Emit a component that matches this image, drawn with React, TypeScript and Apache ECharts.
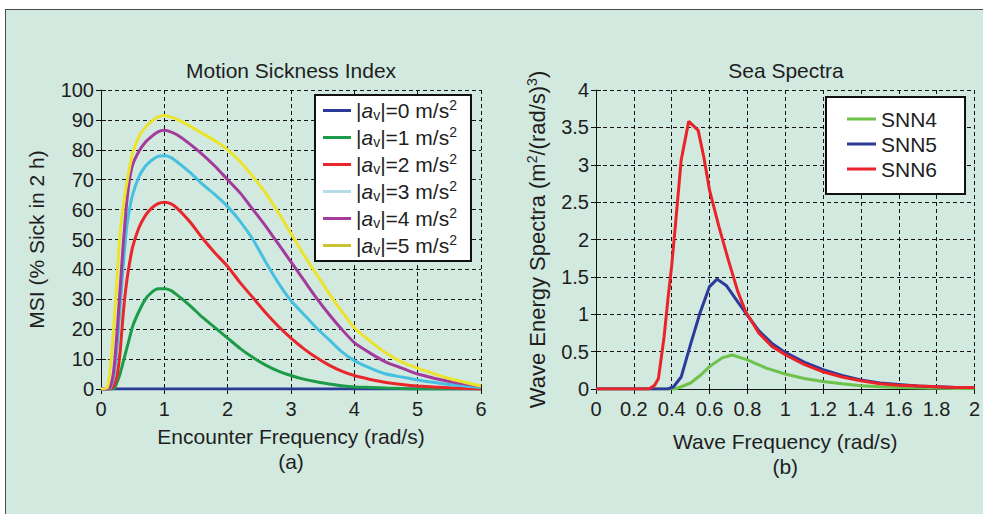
import React, { useEffect, useRef } from 'react';
import * as echarts from 'echarts';

// ---------- Left panel: Motion Sickness Index ----------
const msiFreq = [0, 0.1, 0.15, 0.2, 0.25, 0.3, 0.35, 0.4, 0.45, 0.5, 0.6, 0.7, 0.8, 0.9, 1.0, 1.1, 1.2, 1.4, 1.6, 1.8, 2.0, 2.2, 2.4, 2.6, 2.8, 3.0, 3.2, 3.4, 3.6, 3.8, 4.0, 4.25, 4.5, 4.75, 5.0, 5.5, 6.0];
const msiA0 = [0, 0, 0, 0, 0, 0, 0, 0, 0, 0, 0, 0, 0, 0, 0, 0, 0, 0, 0, 0, 0, 0, 0, 0, 0, 0, 0, 0, 0, 0, 0, 0, 0, 0, 0, 0, 0];
const msiA1 = [0, 0, 0, 0, 2, 5, 9, 13, 17, 21, 26, 30, 32.3, 33.5, 33.5, 33, 31.5, 28, 24, 20.5, 17, 13.5, 10.5, 8, 6, 4.5, 3.3, 2.4, 1.7, 1.1, 0.7, 0.5, 0.3, 0.15, 0, 0, 0];
const msiA2 = [0, 0, 0, 1, 4, 12, 25, 35, 42, 47.5, 54, 58, 60.5, 62, 62.5, 62, 60.5, 56, 50.5, 45.5, 41, 35.5, 30.5, 25.5, 21, 17, 13.5, 10.5, 8, 6, 4.5, 3.2, 2.2, 1.5, 1, 0.4, 0];
const msiA3 = [0, 0, 0.5, 4, 13, 27, 41, 53, 60, 65, 71, 74.5, 76.5, 77.8, 78, 77.5, 76, 72.5, 68.5, 65, 61, 56, 50, 42.5, 35.5, 29.5, 25, 20.5, 16.5, 12.5, 9.5, 7, 5, 4, 3, 1.5, 0.5];
const msiA4 = [0, 0, 1, 6, 18, 33, 48, 61, 70, 75, 79.5, 82.5, 84.5, 86, 86.5, 86, 85, 82, 78.5, 74.5, 70, 65.5, 60, 54.5, 48.5, 42.5, 36.5, 30.5, 25, 20, 15.5, 12, 9, 7, 5, 2.5, 1];
const msiA5 = [0, 0.5, 8, 20, 36, 52, 61, 68, 74, 79, 84.5, 87.5, 89.5, 91, 91.5, 91, 90.2, 88, 85.5, 83, 80, 76, 71, 65.5, 59, 52, 45, 38.5, 32, 26, 20.5, 16, 12, 9, 7, 3.5, 1];
const accelLevels = [0, 1, 2, 3, 4, 5];
const msiSeries = [msiA0, msiA1, msiA2, msiA3, msiA4, msiA5];
const msiColors = ['#2b3a97', '#1c9c48', '#e8262b', '#46c0e0', '#a23b9c', '#ece42c'];
const msiLegendColors = ['#2b3a97', '#1c9c48', '#e8262b', '#b5dcea', '#a23b9c', '#c9c231'];

// ---------- Right panel: Sea Spectra ----------
const snn4Freq = [0, 0.42, 0.5, 0.55, 0.6, 0.67, 0.72, 0.8, 0.9, 1.0, 1.1, 1.2, 1.3, 1.4, 1.5, 1.6, 1.8, 2.0];
const snn4Val = [0, 0, 0.08, 0.18, 0.3, 0.42, 0.455, 0.39, 0.28, 0.2, 0.14, 0.1, 0.07, 0.045, 0.03, 0.02, 0.01, 0.005];
const snn5Freq = [0, 0.38, 0.41, 0.45, 0.5, 0.55, 0.6, 0.64, 0.69, 0.74, 0.79, 0.86, 0.93, 1.0, 1.1, 1.2, 1.3, 1.4, 1.5, 1.6, 1.7, 1.8, 1.9, 2.0];
const snn5Val = [0, 0, 0.03, 0.16, 0.6, 1.02, 1.37, 1.47, 1.38, 1.2, 1.02, 0.78, 0.61, 0.49, 0.36, 0.26, 0.18, 0.12, 0.08, 0.06, 0.04, 0.03, 0.02, 0.02];
const snn6Freq = [0, 0.28, 0.31, 0.33, 0.36, 0.38, 0.4, 0.42, 0.45, 0.49, 0.54, 0.57, 0.6, 0.65, 0.7, 0.75, 0.79, 0.86, 0.93, 1.0, 1.1, 1.2, 1.3, 1.4, 1.5, 1.6, 1.7, 1.8, 1.9, 2.0];
const snn6Val = [0, 0, 0.05, 0.14, 0.7, 1.2, 1.65, 2.2, 3.06, 3.58, 3.46, 3.1, 2.66, 2.17, 1.72, 1.3, 1.04, 0.75, 0.57, 0.46, 0.33, 0.23, 0.16, 0.11, 0.07, 0.05, 0.04, 0.03, 0.02, 0.02];
const seaNames = ['SNN4', 'SNN5', 'SNN6'];
const seaColors = ['#6cc24a', '#2b3b9b', '#ea2229'];

const FONT = '"Liberation Sans", Arial, Helvetica, sans-serif';
const TXT = '#1e1e1e';

const gridLine = { show: true, lineStyle: { type: [4, 3] as any, color: '#111', width: 1 } };
const supStyle = { fontSize: 14, lineHeight: 12, padding: [0, 0, 11, 0], color: TXT, fontFamily: FONT };
const subStyle = { fontSize: 14, lineHeight: 12, padding: [9, 0, 0, 0], color: TXT, fontFamily: FONT };

function mainX(gridIndex: number, min: number, max: number, interval: number, name: string, nameGap: number) {
  return {
    type: 'value', gridIndex, min, max, interval, position: 'bottom',
    axisLine: { show: true, onZero: false, lineStyle: { color: '#111', width: 1 } },
    axisTick: { show: true, inside: true, length: 5, lineStyle: { color: '#111' } },
    axisLabel: { fontSize: 20, color: TXT, margin: 10, fontFamily: FONT },
    splitLine: gridLine,
    name, nameLocation: 'middle', nameGap,
    nameTextStyle: { fontSize: 21, lineHeight: 25, color: TXT, fontFamily: FONT },
  };
}
function sideX(gridIndex: number, min: number, max: number, interval: number) {
  return {
    type: 'value', gridIndex, min, max, interval, position: 'top',
    axisLine: { show: false },
    axisTick: { show: true, inside: true, length: 5, lineStyle: { color: '#111' } },
    axisLabel: { show: false }, splitLine: { show: false },
  };
}
function mainY(gridIndex: number, min: number, max: number, interval: number, name: string, nameGap: number, nameSize: number) {
  return {
    type: 'value', gridIndex, min, max, interval, position: 'left',
    axisLine: { show: true, onZero: false, lineStyle: { color: '#111', width: 1 } },
    axisTick: { show: true, inside: true, length: 5, lineStyle: { color: '#111' } },
    axisLabel: { fontSize: 20, color: TXT, margin: 7, fontFamily: FONT },
    splitLine: gridLine,
    name, nameLocation: 'middle', nameGap,
    nameTextStyle: {
      fontSize: nameSize, lineHeight: 26, color: TXT, fontFamily: FONT,
      rich: { sup: supStyle },
    },
  };
}
function sideY(gridIndex: number, min: number, max: number, interval: number) {
  return {
    type: 'value', gridIndex, min, max, interval, position: 'right',
    axisLine: { show: false },
    axisTick: { show: true, inside: true, length: 5, lineStyle: { color: '#111' } },
    axisLabel: { show: false }, splitLine: { show: false },
  };
}

export default function App() {
  const ref = useRef<HTMLDivElement>(null);
  useEffect(() => {
    document.body.style.margin = '0';
    const chart = echarts.init(ref.current!, null, { renderer: 'svg' });
    const msiNames = accelLevels.map((a) => `|av|=${a} m/s2`);
    const msiRich: Record<string, string> = {};
    accelLevels.forEach((a, i) => {
      msiRich[msiNames[i]] = `|{i|a}{sub|v}|=${a} m/s{sup|2}`;
    });
    const series: any[] = [];
    msiSeries.forEach((vals, i) => {
      series.push({
        name: msiNames[i], type: 'line', xAxisIndex: 0, yAxisIndex: 0,
        symbol: 'none', showSymbol: false, smooth: 0.2,
        lineStyle: { width: 3, color: msiColors[i] }, itemStyle: { color: msiColors[i] },
        data: msiFreq.map((f, k) => [f, vals[k]]),
      });
    });
    const seaF = [snn4Freq, snn5Freq, snn6Freq];
    const seaV = [snn4Val, snn5Val, snn6Val];
    seaNames.forEach((n, i) => {
      series.push({
        name: n, type: 'line', xAxisIndex: 2, yAxisIndex: 2,
        symbol: 'none', showSymbol: false,
        lineStyle: { width: 3, color: seaColors[i] }, itemStyle: { color: seaColors[i] },
        data: seaF[i].map((f, k) => [f, seaV[i][k]]),
      });
    });

    chart.setOption({
      animation: false,
      textStyle: { fontFamily: FONT },
      grid: [
        { left: 101, top: 90, width: 380, height: 299 },
        { left: 596, top: 90, width: 380, height: 299 },
      ],
      xAxis: [
        mainX(0, 0, 6, 1, 'Encounter Frequency (rad/s)\n(a)', 35),
        sideX(0, 0, 6, 1),
        mainX(1, 0, 2, 0.2, 'Wave Frequency (rad/s)\n(b)', 40),
        sideX(1, 0, 2, 0.2),
      ],
      yAxis: [
        mainY(0, 0, 100, 10, 'MSI (% Sick in 2 h)', 52, 21),
        sideY(0, 0, 100, 10),
        mainY(1, 0, 4, 0.5, 'Wave Energy Spectra (m{sup|2}/(rad/s){sup|3})', 46, 22),
        sideY(1, 0, 4, 0.5),
      ],
      legend: [
        {
          orient: 'vertical', left: 315, top: 95, selectedMode: false,
          icon: 'rect', itemWidth: 28, itemHeight: 3, itemGap: 2,
          padding: [3, 14, 3, 8],
          backgroundColor: '#ffffff', borderColor: '#111', borderWidth: 2,
          data: msiNames.map((n, i) => ({ name: n, itemStyle: { color: msiLegendColors[i] } })),
          formatter: (name: string) => msiRich[name] || name,
          textStyle: {
            fontSize: 21, lineHeight: 24, color: TXT, fontFamily: FONT,
            rich: {
              i: { fontStyle: 'italic', fontSize: 21, lineHeight: 24, color: TXT, fontFamily: FONT },
              sub: subStyle,
              sup: supStyle,
            },
          },
        },
        {
          orient: 'vertical', left: 826, top: 97, selectedMode: false,
          icon: 'rect', itemWidth: 29, itemHeight: 3, itemGap: 1,
          padding: [10, 28, 13, 21],
          backgroundColor: '#ffffff', borderColor: '#111', borderWidth: 2,
          data: seaNames.map((n) => ({ name: n })),
          textStyle: { fontSize: 21, lineHeight: 24, color: TXT, fontFamily: FONT },
        },
      ],
      graphic: [
        {
          type: 'text', x: 291, y: 70,
          style: { text: 'Motion Sickness Index', fontSize: 21, fontFamily: FONT, fill: TXT, align: 'center', verticalAlign: 'middle', textAlign: 'center', textVerticalAlign: 'middle' },
        },
        {
          type: 'text', x: 786, y: 70,
          style: { text: 'Sea Spectra', fontSize: 21, fontFamily: FONT, fill: TXT, align: 'center', verticalAlign: 'middle', textAlign: 'center', textVerticalAlign: 'middle' },
        },
      ],
      series,
    });
    return () => chart.dispose();
  }, []);

  return (
    <div style={{ position: 'relative', width: 983, height: 514, background: '#ffffff', overflow: 'hidden' }}>
      <div style={{ position: 'absolute', left: 5, top: 9, width: 990, height: 520, background: '#d2e9df', border: '1px solid #4a4a4a', boxSizing: 'border-box' }} />
      <div ref={ref} style={{ position: 'absolute', left: 0, top: 0, width: 983, height: 514 }} />
    </div>
  );
}
